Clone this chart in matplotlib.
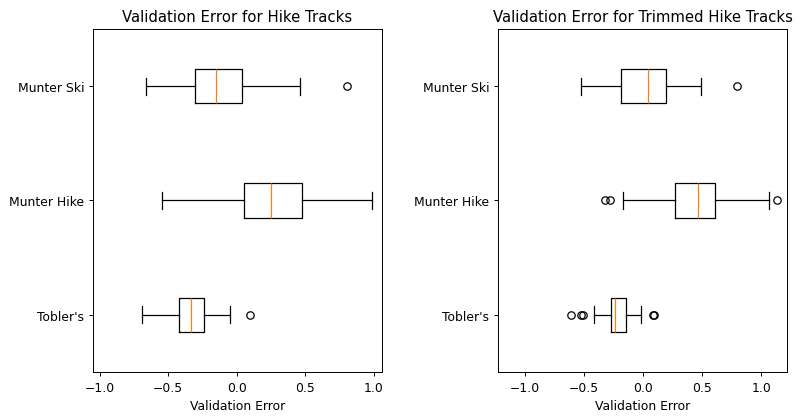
import matplotlib
matplotlib.use('Agg')
import matplotlib.pyplot as plt

labels = ["Tobler's", 'Munter Hike', 'Munter Ski']

# full tracks: whislo, q1, median, q3, whishi, fliers
full_whislo = [-0.69, -0.547, -0.659]
full_q1 = [-0.423, 0.051, -0.304]
full_med = [-0.333, 0.251, -0.151]
full_q3 = [-0.236, 0.479, 0.039]
full_whishi = [-0.049, 0.983, 0.462]
full_fliers = [[0.095], [], [0.805]]

# trimmed tracks
trim_whislo = [-0.414, -0.169, -0.527]
trim_q1 = [-0.273, 0.270, -0.183]
trim_med = [-0.237, 0.465, 0.042]
trim_q3 = [-0.144, 0.611, 0.197]
trim_whishi = [-0.014, 1.062, 0.493]
trim_fliers = [[-0.606, -0.521, -0.507, 0.087, 0.095], [-0.324, -0.282, 1.130], [0.794]]


def make_stats(whislo, q1, med, q3, whishi, fliers):
    stats = []
    for i in range(len(labels)):
        stats.append({'label': labels[i], 'whislo': whislo[i], 'q1': q1[i],
                      'med': med[i], 'q3': q3[i], 'whishi': whishi[i],
                      'fliers': fliers[i]})
    return stats


# reference looks like a 9 inch wide figure scaled down to 800 px
fig, axes = plt.subplots(1, 2, figsize=(9, 4.736), dpi=800 / 9)
fig.subplots_adjust(left=0.116, right=0.984, bottom=0.114, top=0.929, wspace=0.40)

full_stats = make_stats(full_whislo, full_q1, full_med, full_q3, full_whishi, full_fliers)
trim_stats = make_stats(trim_whislo, trim_q1, trim_med, trim_q3, trim_whishi, trim_fliers)

axes[0].bxp(full_stats, vert=False)
axes[0].set_title('Validation Error for Hike Tracks')
axes[0].set_xlabel('Validation Error')
axes[0].set_xlim(-1.05, 1.06)

axes[1].bxp(trim_stats, vert=False)
axes[1].set_title('Validation Error for Trimmed Hike Tracks')
axes[1].set_xlabel('Validation Error')
axes[1].set_xlim(-1.225, 1.218)

fig.savefig('out.png')
